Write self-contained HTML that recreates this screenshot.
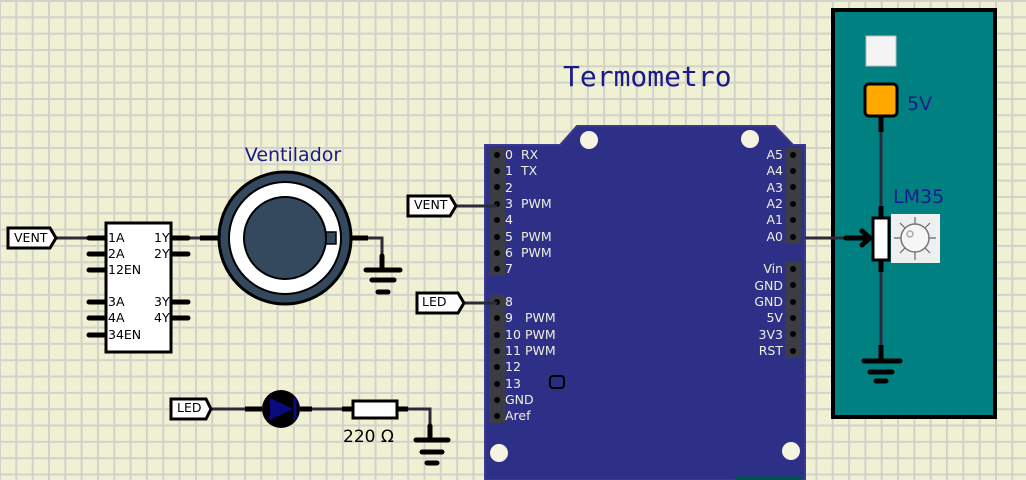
<!DOCTYPE html>
<html><head><meta charset="utf-8"><style>
html,body{margin:0;padding:0;width:1026px;height:480px;overflow:hidden;background:#f0f0d2;}
.bg{position:absolute;left:0;top:0;width:1026px;height:480px;
background-image:linear-gradient(to right,#d2d2cc 2px,transparent 2px),linear-gradient(to bottom,#d2d2cc 2px,transparent 2px);
background-size:16.33px 16.33px;background-position:-1px 0px;}
svg{position:absolute;left:0;top:0;}
text{font-family:"DejaVu Sans","Liberation Sans",sans-serif;}
</style></head><body><div class="bg"></div>
<svg width="1026" height="480" viewBox="0 0 1026 480">
<!-- Arduino -->
<path d="M485,145 L560,145 L577,126 L775,126 L793,145 L805,145 L805,480 L485,480 Z" fill="#2e3088" stroke="#3a3a90" stroke-width="2"/>
<circle cx="589" cy="140" r="9" fill="#f4f4e0"/><circle cx="750" cy="139" r="9" fill="#f4f4e0"/>
<circle cx="499" cy="453" r="9" fill="#f4f4e0"/><circle cx="791" cy="451" r="9" fill="#f4f4e0"/>
<rect x="735" y="476" width="66" height="6" fill="#0a4a5a"/>
<rect x="550" y="376" width="14" height="12" rx="3" fill="#2a2e80" stroke="#000" stroke-width="2"/>
<rect x="489" y="148" width="16" height="128" fill="#3c3c44"/>
<rect x="489" y="295" width="16" height="128" fill="#3c3c44"/>
<rect x="785" y="148" width="16" height="96" fill="#3c3c44"/>
<rect x="785" y="262" width="16" height="96" fill="#3c3c44"/>
<g fill="#000">
<circle cx="497" cy="155" r="3"/><circle cx="497" cy="171" r="3"/><circle cx="497" cy="187" r="3"/><circle cx="497" cy="204" r="3"/><circle cx="497" cy="220" r="3"/><circle cx="497" cy="237" r="3"/><circle cx="497" cy="253" r="3"/><circle cx="497" cy="269" r="3"/>
<circle cx="497" cy="302" r="3"/><circle cx="497" cy="318" r="3"/><circle cx="497" cy="335" r="3"/><circle cx="497" cy="351" r="3"/><circle cx="497" cy="367" r="3"/><circle cx="497" cy="384" r="3"/><circle cx="497" cy="400" r="3"/><circle cx="497" cy="416" r="3"/>
<circle cx="793" cy="155" r="3"/><circle cx="793" cy="171" r="3"/><circle cx="793" cy="187" r="3"/><circle cx="793" cy="204" r="3"/><circle cx="793" cy="220" r="3"/><circle cx="793" cy="237" r="3"/>
<circle cx="793" cy="269" r="3"/><circle cx="793" cy="285" r="3"/><circle cx="793" cy="302" r="3"/><circle cx="793" cy="318" r="3"/><circle cx="793" cy="334" r="3"/><circle cx="793" cy="351" r="3"/>
</g>
<g fill="#f0f0e0" font-size="12.5">
<text x="505" y="159">0</text><text x="521" y="159">RX</text>
<text x="505" y="175">1</text><text x="521" y="175">TX</text>
<text x="505" y="192">2</text>
<text x="505" y="208">3</text><text x="521" y="208">PWM</text>
<text x="505" y="224">4</text>
<text x="505" y="241">5</text><text x="521" y="241">PWM</text>
<text x="505" y="257">6</text><text x="521" y="257">PWM</text>
<text x="505" y="273">7</text>
<text x="505" y="306">8</text>
<text x="505" y="322">9</text><text x="525" y="322">PWM</text>
<text x="505" y="339">10</text><text x="525" y="339">PWM</text>
<text x="505" y="355">11</text><text x="525" y="355">PWM</text>
<text x="505" y="371">12</text><text x="505" y="388">13</text><text x="505" y="404">GND</text><text x="505" y="420">Aref</text>
</g>
<g fill="#f0f0e0" font-size="12.5" text-anchor="end">
<text x="783" y="159">A5</text><text x="783" y="175">A4</text><text x="783" y="192">A3</text><text x="783" y="208">A2</text><text x="783" y="224">A1</text><text x="783" y="241">A0</text>
<text x="783" y="273">Vin</text><text x="783" y="290">GND</text><text x="783" y="306">GND</text><text x="783" y="322">5V</text><text x="783" y="339">3V3</text><text x="783" y="355">RST</text>
</g>
<text x="563" y="86" font-size="28" fill="#1a1a8c" style="font-family:'DejaVu Sans Mono','Liberation Mono',monospace">Termometro</text>

<!-- wires -->
<g stroke="#2a2a3a" stroke-width="3" fill="none">
<path d="M57,238 H90"/><path d="M189,238 H218"/><path d="M352,238 H382 V268"/>
<path d="M457,206 H497"/><path d="M465,303 H497"/>
<path d="M212,409 H262"/><path d="M300,409 H352"/><path d="M397,409 H430 V440"/>
</g>

<!-- labels -->
<g fill="#fff" stroke="#000" stroke-width="3">
<path d="M8,228 H50 L56,238 L50,248 H8 Z"/>
<path d="M408,196 H450 L456,206 L450,216 H408 Z"/>
<path d="M417,293 H458 L464,303 L458,313 H417 Z"/>
<path d="M171,399 H206 L211,409 L206,419 H171 Z"/>
</g>
<g font-size="12.5" fill="#000">
<text x="14" y="242">VENT</text><text x="414" y="209">VENT</text><text x="422" y="306">LED</text><text x="177" y="412">LED</text>
</g>

<!-- IC -->
<g stroke="#000" stroke-width="5" stroke-linecap="round">
<path d="M89,238 H106 M89,254 H106 M89,270 H106 M89,302 H106 M89,318 H106 M89,335 H106"/>
<path d="M171,238 H188 M171,254 H188 M171,302 H188 M171,318 H188"/>
</g>
<rect x="106" y="223" width="65" height="129" fill="#fff" stroke="#000" stroke-width="3"/>
<g font-size="12.5" fill="#000">
<text x="108" y="242">1A</text><text x="108" y="258">2A</text><text x="108" y="274">12EN</text><text x="108" y="306">3A</text><text x="108" y="322">4A</text><text x="108" y="339">34EN</text>
<text x="154" y="242">1Y</text><text x="154" y="258">2Y</text><text x="154" y="306">3Y</text><text x="154" y="322">4Y</text>
</g>

<!-- fan -->
<text x="293" y="161" font-size="19" fill="#1a1a8c" text-anchor="middle">Ventilador</text>
<path d="M200,238 H220 M350,238 H368" stroke="#000" stroke-width="5"/>
<circle cx="285" cy="238" r="66" fill="#34495e" stroke="#000" stroke-width="3"/>
<circle cx="285" cy="238" r="56" fill="#fff" stroke="#000" stroke-width="2"/>
<rect x="324" y="232" width="12" height="12" fill="#34495e" stroke="#000" stroke-width="1.5"/>
<circle cx="285" cy="238" r="41" fill="#34495e" stroke="#000" stroke-width="2"/>
<g stroke="#000" stroke-width="5" stroke-linecap="round">
<path d="M382,256 V270"/><path d="M366,270 H400"/><path d="M372,280 H394"/><path d="M378,292 H388"/>
</g>

<!-- LED -->
<path d="M245,409 H262 M300,409 H312" stroke="#000" stroke-width="5"/>
<circle cx="281" cy="409" r="19" fill="#000"/>
<path d="M270,398 L293,409 L270,420 Z" fill="#0a0a80"/>
<path d="M295,398 V420" stroke="#0a0a80" stroke-width="3"/>
<path d="M342,409 H352 M397,409 H408" stroke="#000" stroke-width="5"/>
<rect x="353" y="401" width="44" height="17" fill="#fff" stroke="#000" stroke-width="3"/>
<text x="343" y="442" font-size="17" fill="#000">220 Ω</text>
<g stroke="#000" stroke-width="5" stroke-linecap="round">
<path d="M430,426 V440"/><path d="M416,440 H448"/><path d="M422,452 H442"/><path d="M427,463 H437"/>
</g>

<!-- teal panel -->
<rect x="833" y="10" width="162" height="407" fill="#008080" stroke="#000" stroke-width="4"/>
<g stroke="#2a2a3a" stroke-width="3" fill="none">
<path d="M805,238 H860"/>
<path d="M881,116 V218"/><path d="M881,260 V350"/>
</g>
<rect x="866" y="36" width="30" height="30" fill="#f4f4f4" stroke="#bbb" stroke-width="1"/>
<rect x="865" y="84" width="32" height="32" rx="4" fill="#ffa800" stroke="#000" stroke-width="3"/>
<text x="907" y="110" font-size="19" fill="#1a1a8c">5V</text>
<text x="893" y="203" font-size="19" fill="#1a1a8c">LM35</text>
<path d="M881,116 V132 M881,206 V218 M881,260 V272 M881,345 V360" stroke="#000" stroke-width="5"/>
<path d="M846,238 H870 M862,231 L870,238 L862,245" stroke="#000" stroke-width="5" fill="none" stroke-linecap="round" stroke-linejoin="round"/>
<rect x="873" y="218" width="16" height="42" fill="#fff" stroke="#000" stroke-width="3"/>
<rect x="891" y="214" width="49" height="49" fill="#eef0f0"/>
<g stroke="#666" stroke-width="1.2">
<path d="M915,217 V226 M915,251 V260 M894,238 H903 M927,238 H936 M900,223 L906,229 M930,223 L924,229 M900,253 L906,247 M930,253 L924,247"/>
</g>
<circle cx="915" cy="238" r="14" fill="#f6f6f6" stroke="#777" stroke-width="1.5"/>
<circle cx="910" cy="234" r="3" fill="none" stroke="#aaa" stroke-width="1.5"/>
<g stroke="#000" stroke-width="5" stroke-linecap="round">
<path d="M864,361 H900"/><path d="M870,372 H892"/><path d="M876,381 H886"/>
</g>
</svg>
</body></html>
